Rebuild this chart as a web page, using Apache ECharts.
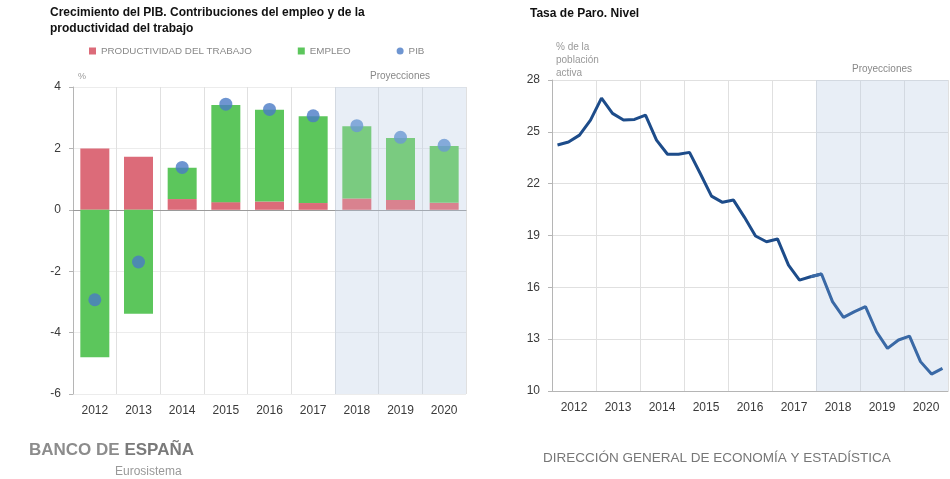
<!DOCTYPE html>
<html>
<head>
<meta charset="utf-8">
<script src="https://cdn.jsdelivr.net/npm/echarts@6/dist/echarts.min.js"></script>
<style>html,body{margin:0;padding:0;background:#fff}#c{width:950px;height:479px}</style>
</head>
<body>
<div id="c"></div>
<script>
// ---- Data ----
const years = ['2012','2013','2014','2015','2016','2017','2018','2019','2020'];
const projectionStart = '2018';
const productividad = [2.00, 1.73, 0.35, 0.25, 0.27, 0.22, 0.37, 0.32, 0.23];
const empleo        = [-4.80, -3.39, 1.02, 3.16, 2.99, 2.83, 2.35, 2.02, 1.85];
const pib           = [-2.93, -1.70, 1.38, 3.44, 3.27, 3.06, 2.74, 2.36, 2.10];
const leftTicks = [-6, -4, -2, 0, 2, 4];

const quarterNames = ['T1','T2','T3','T4'];
const paro = [24.24, 24.41, 24.81, 25.68, 26.95, 26.07, 25.68, 25.72,
              25.97, 24.52, 23.70, 23.70, 23.81, 22.56, 21.28, 20.92,
              21.05, 20.05, 18.97, 18.64, 18.80, 17.29, 16.42, 16.61,
              16.77, 15.17, 14.26, 14.59, 14.88, 13.43, 12.47, 12.95,
              13.18, 11.70, 10.98, 11.31];
const rightTicks = [10, 13, 16, 19, 22, 25, 28];

// ---- Build helpers ----
const quarters = [];
years.forEach(y => quarterNames.forEach(q => quarters.push(y + '-' + q)));
const projIdx = years.indexOf(projectionStart);
const projQIdx = quarters.indexOf(projectionStart + '-T1');
const paroHist = paro.map((v, i) => (i <= projQIdx ? v : null));
const paroProj = paro.map((v, i) => (i >= projQIdx - 1 ? v : null));

const FONT = '"Liberation Sans", Arial, sans-serif';
const C = {
  prod: '#dc6b79', prodP: '#d9828f',
  emp: '#5cc65c', empP: '#7acb80',
  pib: '#4a7bc5', pibP: '#6b98d3',
  line: '#1d4c8a', lineP: '#3a69a6',
  shade: 'rgba(185,201,226,0.32)',
  grid: '#e0e0e0', axis: '#b5b5b5', label: '#3a3a3a'
};
function styled(arr, base, proj) {
  return arr.map((v, i) => ({ value: v, itemStyle: { color: i >= projIdx ? proj : base } }));
}

const yearMin = Number(years[0]);
const yearMax = Number(years[years.length - 1]) + 1;

const chart = echarts.init(document.getElementById('c'), null, { renderer: 'canvas' });
chart.setOption({
  animation: false,
  textStyle: { fontFamily: FONT },
  title: [
    { text: 'Crecimiento del PIB. Contribuciones del empleo y de la\nproductividad del trabajo',
      left: 50, top: 5, padding: 0,
      textStyle: { fontSize: 12, fontWeight: 'bold', color: '#111', lineHeight: 16, fontFamily: FONT } },
    { text: 'Tasa de Paro. Nivel', left: 530, top: 8, padding: 0,
      textStyle: { fontSize: 12, fontWeight: 'bold', color: '#111', fontFamily: FONT } },
    { text: '{a|BANCO DE }{b|ESPAÑA}', left: 29, top: 442, padding: 0,
      textStyle: { rich: {
        a: { fontSize: 17, color: '#8c8c8c', fontFamily: FONT },
        b: { fontSize: 17, color: '#7a7a7a', fontWeight: 'bold', fontFamily: FONT } } } },
    { text: 'Eurosistema', left: 115, top: 466, padding: 0,
      textStyle: { fontSize: 12, color: '#999', fontWeight: 'normal', fontFamily: FONT } },
    { text: 'DIRECCIÓN GENERAL DE ECONOMÍA Y ESTADÍSTICA', left: 543, top: 451, padding: 0,
      textStyle: { fontSize: 13.5, color: '#777', fontWeight: 'normal', fontFamily: FONT } }
  ],
  legend: {
    left: 89, top: 46, padding: 0, itemWidth: 7, itemHeight: 7, itemGap: 46,
    textStyle: { fontSize: 9.8, color: '#888', fontFamily: FONT },
    data: [
      { name: 'PRODUCTIVIDAD DEL TRABAJO', icon: 'rect' },
      { name: 'EMPLEO', icon: 'rect' },
      { name: 'PIB', icon: 'circle' }
    ]
  },
  graphic: [
    { type: 'text', left: 78, top: 72, style: { text: '%', fill: '#999', font: '9px ' + FONT } },
    { type: 'text', left: 370, top: 71, style: { text: 'Proyecciones', fill: '#888', font: '10px ' + FONT } },
    { type: 'text', left: 556, top: 41, style: { text: '% de la\npoblación\nactiva', fill: '#999', font: '10px ' + FONT, lineHeight: 13 } },
    { type: 'text', left: 852, top: 64, style: { text: 'Proyecciones', fill: '#888', font: '10px ' + FONT } }
  ],
  grid: [
    { left: 73, right: 484, top: 87, bottom: 85 },
    { left: 552, right: 2, top: 80, bottom: 88 }
  ],
  xAxis: [
    { type: 'category', gridIndex: 0, data: years, boundaryGap: true,
      axisLine: { show: false, onZero: false }, axisTick: { show: false },
      axisLabel: { color: C.label, fontSize: 12, margin: 11, fontFamily: FONT },
      splitLine: { show: true, lineStyle: { color: C.grid } } },
    { type: 'category', gridIndex: 0, data: years, show: true,
      axisLine: { show: true, onZero: true, lineStyle: { color: '#9a9a9a' } },
      axisTick: { show: false }, axisLabel: { show: false }, splitLine: { show: false } },
    { type: 'value', gridIndex: 0, min: yearMin, max: yearMax, show: false },
    { type: 'category', gridIndex: 1, data: years, boundaryGap: true,
      axisLine: { show: true, onZero: false, lineStyle: { color: C.axis } }, axisTick: { show: false },
      axisLabel: { color: C.label, fontSize: 12, margin: 11, fontFamily: FONT },
      splitLine: { show: true, lineStyle: { color: C.grid } } },
    { type: 'category', gridIndex: 1, data: quarters, boundaryGap: true, show: false },
    { type: 'value', gridIndex: 1, min: yearMin, max: yearMax, show: false }
  ],
  yAxis: [
    { type: 'value', gridIndex: 0, min: leftTicks[0], max: leftTicks[leftTicks.length - 1],
      interval: leftTicks[1] - leftTicks[0],
      axisLine: { show: true, lineStyle: { color: C.axis } },
      axisTick: { show: true, length: 4, lineStyle: { color: C.axis } },
      axisLabel: { color: C.label, fontSize: 12, margin: 12, fontFamily: FONT },
      splitLine: { show: true, lineStyle: { color: '#ececec' } } },
    { type: 'value', gridIndex: 1, min: rightTicks[0], max: rightTicks[rightTicks.length - 1],
      interval: rightTicks[1] - rightTicks[0],
      axisLine: { show: true, lineStyle: { color: C.axis } },
      axisTick: { show: true, length: 4, lineStyle: { color: C.axis } },
      axisLabel: { color: C.label, fontSize: 12, margin: 12, fontFamily: FONT },
      splitLine: { show: true, lineStyle: { color: C.grid } } }
  ],
  series: [
    { name: 'PRODUCTIVIDAD DEL TRABAJO', type: 'bar', xAxisIndex: 0, yAxisIndex: 0,
      stack: 'pib', barWidth: 29, itemStyle: { color: C.prod },
      data: styled(productividad, C.prod, C.prodP) },
    { name: 'EMPLEO', type: 'bar', xAxisIndex: 0, yAxisIndex: 0,
      stack: 'pib', barWidth: 29, itemStyle: { color: C.emp },
      data: styled(empleo, C.emp, C.empP) },
    { name: 'PIB', type: 'scatter', xAxisIndex: 0, yAxisIndex: 0, symbolSize: 13,
      itemStyle: { color: C.pib }, data: styled(pib, C.pib, C.pibP) },
    { name: 'Tasa de paro', type: 'line', xAxisIndex: 4, yAxisIndex: 1, data: paroHist,
      symbol: 'none', lineStyle: { width: 3, color: C.line } },
    { name: 'Tasa de paro (proyección)', type: 'line', xAxisIndex: 4, yAxisIndex: 1, data: paroProj,
      symbol: 'none', lineStyle: { width: 3, color: C.lineP } },
    { type: 'line', xAxisIndex: 2, yAxisIndex: 0, data: [], silent: true, z: 10,
      markArea: { silent: true, itemStyle: { color: C.shade },
        data: [[{ xAxis: Number(projectionStart) }, { xAxis: yearMax }]] } },
    { type: 'line', xAxisIndex: 5, yAxisIndex: 1, data: [], silent: true, z: 10,
      markArea: { silent: true, itemStyle: { color: C.shade },
        data: [[{ xAxis: Number(projectionStart) }, { xAxis: yearMax }]] } }
  ]
});
</script>
</body>
</html>
